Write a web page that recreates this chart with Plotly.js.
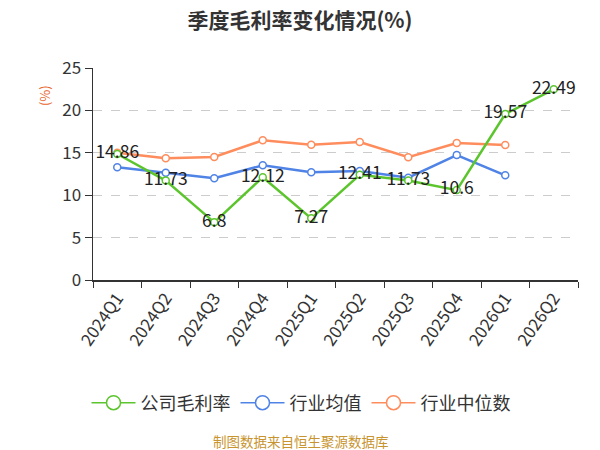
<!DOCTYPE html>
<html>
<head>
<meta charset="utf-8">
<script src="https://cdn.plot.ly/plotly-3.0.1.min.js"></script>
<style>html,body{margin:0;padding:0;background:#fff;}#chart{width:600px;height:450px;}</style>
</head>
<body>
<div id="chart"></div>
<script>
const quarters = ['2024Q1','2024Q2','2024Q3','2024Q4','2025Q1','2025Q2','2025Q3','2025Q4','2026Q1','2026Q2'];
const companyMargin = [14.86, 11.73, 6.8, 12.12, 7.27, 12.41, 11.73, 10.6, 19.57, 22.49];
const industryMean = [13.29, 12.66, 11.99, 13.52, 12.70, 12.85, 12.07, 14.74, 12.34, null];
const industryMedian = [15.01, 14.35, 14.50, 16.47, 15.96, 16.27, 14.47, 16.15, 15.92, null];
const companyLabels = companyMargin.map(v => String(v));
const seriesNames = ['公司毛利率', '行业均值', '行业中位数'];
const seriesColors = ['#5cc52e', '#5083e6', '#ff8c5c'];

const font = "'Noto Sans CJK SC', 'Noto Sans', sans-serif";

function lineTrace(name, y, color, extra) {
  return Object.assign({
    name: name, x: quarters, y: y, type: 'scatter', mode: 'lines+markers',
    line: {color: color, width: 2.5},
    marker: {symbol: 'circle', size: 7, color: '#ffffff', line: {color: color, width: 1.5}},
    showlegend: false, hoverinfo: 'skip'
  }, extra || {});
}

const traces = [
  lineTrace(seriesNames[1], industryMean, seriesColors[1]),
  lineTrace(seriesNames[2], industryMedian, seriesColors[2]),
  lineTrace(seriesNames[0], companyMargin, seriesColors[0], {
    mode: 'lines+markers+text', text: companyLabels, textposition: 'middle center',
    textfont: {family: font, size: 17.5, color: '#222222'}
  })
];
// legend entries (no data, legend symbols only)
seriesNames.forEach((n, i) => {
  traces.push({
    name: n, x: [null], y: [null], type: 'scatter', mode: 'lines+markers',
    line: {color: seriesColors[i], width: 1.5},
    marker: {symbol: 'circle', size: 14, color: '#ffffff', line: {color: seriesColors[i], width: 1.5}},
    showlegend: true, hoverinfo: 'skip'
  });
});

const layout = {
  width: 600, height: 450,
  margin: {l: 93, r: 22, t: 68, b: 170},
  paper_bgcolor: '#ffffff', plot_bgcolor: '#ffffff',
  font: {family: font, color: '#333333'},
  showlegend: true,
  title: {text: '<b>季度毛利率变化情况(%)</b>', x: 0.5, xanchor: 'center', y: 0.955, yanchor: 'middle',
          font: {family: font, size: 21, color: '#333333'}},
  xaxis: {
    type: 'category', range: [-0.5, 9.5], tickson: 'boundaries',
    showline: true, linecolor: '#333333', linewidth: 1.5,
    ticks: 'outside', ticklen: 6, tickcolor: '#333333',
    tickangle: -55, tickfont: {family: font, size: 17, color: '#333333'},
    showgrid: false, zeroline: false, fixedrange: true
  },
  yaxis: {
    range: [0, 25], dtick: 5, tick0: 0,
    showline: true, linecolor: '#333333', linewidth: 1.5,
    ticks: 'outside', ticklen: 7, tickcolor: '#333333',
    tickfont: {family: font, size: 17, color: '#333333'},
    showgrid: true, gridcolor: '#cccccc', griddash: 'dash', gridwidth: 1,
    zeroline: false, fixedrange: true
  },
  legend: {
    orientation: 'h', x: (301-93)/485, xanchor: 'center', y: (280-403)/212, yanchor: 'middle',
    font: {family: font, size: 18, color: '#333333'},
    itemwidth: 44, traceorder: 'normal'
  },
  annotations: [
    {text: '(%)', xref: 'paper', yref: 'paper', x: -0.1, y: 0.87, xanchor: 'center', yanchor: 'middle',
     textangle: -90, showarrow: false, font: {family: font, size: 13, color: '#e8632c'}},
    {text: '制图数据来自恒生聚源数据库', xref: 'paper', yref: 'paper', x: (301-93)/485, y: (280-441)/212,
     xanchor: 'center', yanchor: 'middle', showarrow: false, font: {family: font, size: 13.5, color: '#c8942f'}}
  ]
};

Plotly.newPlot('chart', traces, layout, {displayModeBar: false, staticPlot: true});
</script>
</body>
</html>
